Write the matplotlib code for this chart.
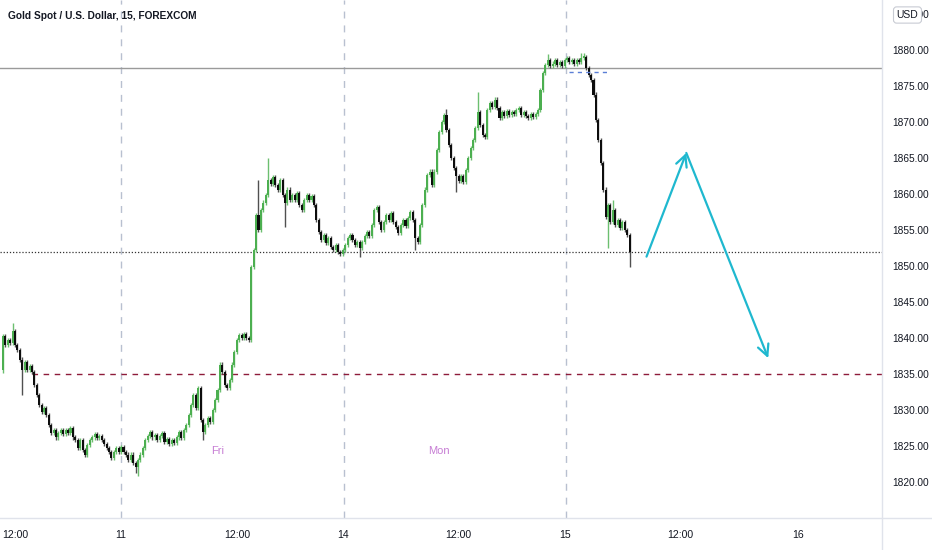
import numpy as np
import matplotlib.pyplot as plt

# --- data (15-minute bars, index 0 = first visible bar) ---
title = "Gold Spot / U.S. Dollar, 15, FOREXCOM"
first_open = 1835.5
closes = [
    1840.3, 1839.0, 1839.7, 1839.3, 1841.0, 1839.0, 1838.3, 1837.0, 1835.6, 1836.6,
    1835.6, 1836.1, 1835.3, 1833.5, 1832.1, 1830.7, 1829.7, 1830.3, 1829.3, 1827.9,
    1826.8, 1827.2, 1826.2, 1826.8, 1827.2, 1826.7, 1827.2, 1826.8, 1827.5, 1826.2,
    1825.8, 1824.7, 1825.8, 1824.4, 1823.8, 1825.1, 1825.8, 1826.2, 1826.7, 1826.1,
    1826.4, 1825.8, 1825.3, 1824.7, 1824.2, 1823.3, 1824.2, 1824.7, 1824.2, 1824.9,
    1824.2, 1823.8, 1823.1, 1823.8, 1822.6, 1822.1, 1823.1, 1823.8, 1824.7, 1825.8,
    1826.4, 1826.9, 1826.2, 1826.5, 1825.8, 1826.4, 1826.8, 1825.6, 1826.0, 1825.3,
    1825.8, 1825.4, 1826.2, 1826.9, 1826.1, 1827.2, 1827.9, 1829.3, 1830.7, 1832.1,
    1830.3, 1833.1, 1828.6, 1826.9, 1827.9, 1828.9, 1828.3, 1830.0, 1831.4, 1832.8,
    1836.3, 1835.3, 1833.5, 1833.1, 1834.2, 1836.3, 1838.1, 1839.7, 1840.4, 1840.0,
    1840.6, 1840.0, 1839.7, 1849.9, 1852.2, 1857.1, 1855.0, 1857.8, 1858.8, 1859.9,
    1861.9, 1861.4, 1862.4, 1861.2, 1860.6, 1861.9, 1859.9, 1858.8, 1860.6, 1859.2,
    1859.9, 1859.2, 1860.1, 1858.5, 1857.8, 1859.2, 1859.9, 1859.2, 1859.7, 1858.5,
    1856.4, 1854.7, 1853.6, 1854.3, 1853.2, 1853.9, 1852.6, 1852.2, 1852.9, 1851.9,
    1851.7, 1852.2, 1852.9, 1853.9, 1854.3, 1853.6, 1852.9, 1853.3, 1852.5, 1853.3,
    1854.2, 1854.7, 1854.2, 1855.7, 1857.8, 1858.2, 1856.1, 1855.0, 1856.1, 1857.1,
    1856.4, 1857.4, 1856.1, 1855.4, 1854.6, 1855.7, 1856.4, 1855.6, 1856.7, 1857.5,
    1856.4, 1853.9, 1853.3, 1855.7, 1858.5, 1860.6, 1862.6, 1863.1, 1861.2, 1863.1,
    1866.1, 1868.6, 1870.0, 1871.0, 1868.9, 1866.8, 1865.0, 1863.6, 1862.5, 1861.8,
    1862.5, 1861.7, 1863.3, 1865.0, 1866.4, 1867.5, 1869.2, 1871.4, 1869.6, 1868.2,
    1867.9, 1871.7, 1872.6, 1872.1, 1873.1, 1871.9, 1870.6, 1871.4, 1870.8, 1871.5,
    1871.0, 1871.4, 1871.1, 1871.7, 1871.9, 1871.0, 1871.4, 1870.8, 1870.6, 1871.1,
    1870.7, 1871.1, 1871.7, 1874.4, 1876.8, 1877.9, 1878.6, 1877.8, 1878.1, 1878.6,
    1877.9, 1878.3, 1877.8, 1878.6, 1878.9, 1878.3, 1878.6, 1878.1, 1878.6, 1878.3,
    1878.9, 1879.0, 1877.5, 1876.5, 1875.8, 1873.8, 1870.3, 1867.5, 1864.3, 1860.6,
    1856.8, 1858.5, 1856.1, 1857.8, 1855.7, 1856.4, 1855.3, 1856.1, 1855.0, 1854.3,
    1851.9,
]
# bars whose wicks stick out visibly
hi_idx = [4, 81, 106, 110, 184, 197, 226, 240, 241, 253]
hi_val = [1842.1, 1833.4, 1861.9, 1865.0, 1871.8, 1874.2, 1879.4, 1879.6, 1879.6, 1859.2]
lo_idx = [8, 55, 56, 83, 117, 148, 171, 188, 251, 260]
lo_val = [1832.1, 1821.3, 1820.9, 1825.8, 1855.4, 1851.2, 1852.2, 1860.3, 1852.5, 1849.9]

resistance = 1877.5
blue_level = 1876.9
last_price = 1851.9
support = 1835.0
proj_x = [267.0, 283.5, 317.5]
proj_y = [1851.3, 1865.7, 1837.2]

x_ticks = [5, 49, 97, 141, 189, 233, 281, 330]
x_labels = ["12:00", "11", "12:00", "14", "12:00", "15", "12:00", "16"]
day_lines = [49, 141.5, 233.5]
y_ticks = [1820, 1825, 1830, 1835, 1840, 1845, 1850, 1855, 1860, 1865, 1870, 1875, 1880, 1885]
session_names = ["Fri", "Mon"]
session_x = [89, 181]
session_y = 1824.3

plt.rcParams["font.family"] = ["Liberation Sans", "DejaVu Sans"]

fig = plt.figure(figsize=(9.32, 5.5), dpi=100)
ax = fig.add_axes([0, 32 / 550, 882 / 932, 518 / 550])

closes = np.array(closes)
opens = np.concatenate([[first_open], closes[:-1]])
idx = np.arange(len(closes))
highs = np.maximum(opens, closes) + 0.3
lows = np.minimum(opens, closes) - 0.3
highs[hi_idx] = hi_val
lows[lo_idx] = lo_val
up = closes >= opens

# day separators
for d in day_lines:
    ax.axvline(d, color="#b8c0d0", lw=1, ls=(0, (5, 5)), zorder=0)

# candles
ax.vlines(idx[up], lows[up], highs[up], color="#6cbf70", lw=1.0, zorder=2)
ax.vlines(idx[~up], lows[~up], highs[~up], color="#505050", lw=1.0, zorder=2)
body = np.maximum(np.abs(closes - opens), 0.25)
bottom = np.minimum(opens, closes)
ax.bar(idx[up], body[up], bottom=bottom[up], width=0.85, color="#4caf50", lw=0, zorder=3)
ax.bar(idx[~up], body[~up], bottom=bottom[~up], width=0.85, color="#0d0d0d", lw=0, zorder=3)

# levels
ax.axhline(resistance, color="#9a9a9a", lw=1, zorder=1)
ax.axhline(last_price, color="#333333", lw=0.9, ls=(0, (1, 1.5)), zorder=1)
ax.plot([12, 364.7], [support, support], color="#8e1b3a", lw=1, ls=(0, (4, 4)), zorder=1)
ax.plot([235, 252], [blue_level, blue_level], color="#5b7fd6", lw=1, ls=(0, (3, 3)), zorder=4)

# projected path
arrow = dict(arrowstyle="->", color="#1fb8cf", lw=1.6, mutation_scale=20, shrinkA=0, shrinkB=0)
ax.annotate("", xy=(proj_x[1], proj_y[1]), xytext=(proj_x[0], proj_y[0]), arrowprops=arrow)
ax.annotate("", xy=(proj_x[2], proj_y[2]), xytext=(proj_x[1], proj_y[1]), arrowprops=arrow)

for name, sx in zip(session_names, session_x):
    ax.text(sx, session_y, name, color="#c77dd4", fontsize=8, ha="center", va="center")

ax.set_xlim(-1.25, 364.7)
ax.set_ylim(1815.0, 1886.94)
ax.set_xticks(x_ticks)
ax.set_xticklabels(x_labels)
ax.set_yticks(y_ticks)
ax.set_yticklabels([f"{v:.2f}" for v in y_ticks])
ax.yaxis.tick_right()
ax.tick_params(axis="y", length=0, pad=7.5, labelsize=7.3, labelcolor="#131722")
ax.tick_params(axis="x", length=0, pad=9, labelsize=7.6, labelcolor="#131722")
for s in ax.spines.values():
    s.set_visible(False)

# axis separators
fig.add_artist(plt.Line2D([882 / 932, 882 / 932], [0, 1], color="#e0e3eb", lw=1))
fig.add_artist(plt.Line2D([0, 1], [32 / 550, 32 / 550], color="#e0e3eb", lw=1))

fig.text(8 / 932, 1 - 16 / 550, title, fontsize=7.3, fontweight="bold", color="#131722",
         ha="left", va="center")
fig.text(907.5 / 932, 1 - 15 / 550, "USD", fontsize=7.5, color="#131722", ha="center", va="center",
         bbox=dict(boxstyle="round,pad=0.3,rounding_size=0.3", fc="white", ec="#c8cbd3", lw=0.8),
         zorder=10)

fig.savefig("out.png", dpi=100)
